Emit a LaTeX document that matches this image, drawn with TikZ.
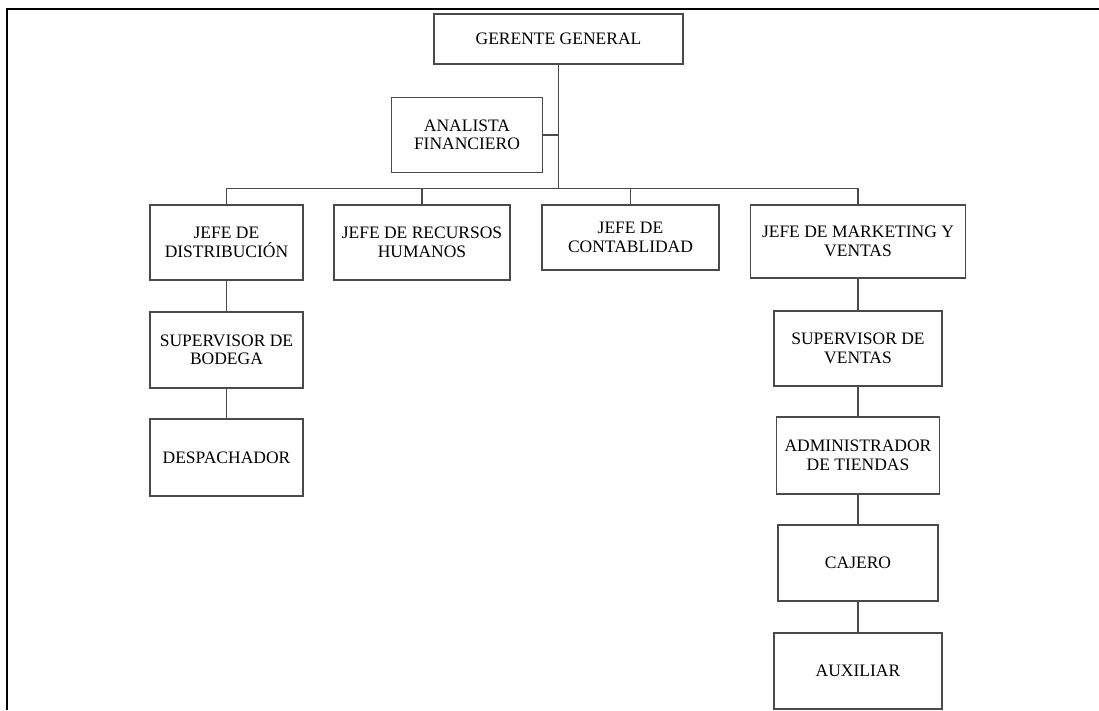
\documentclass[tikz,border=0pt]{standalone}
\usepackage{fontspec}
\setmainfont{Liberation Serif}
\usepackage{xcolor}
\usepackage{tikz}
\usetikzlibrary{positioning}

\definecolor{lineagris}{HTML}{4A4A4A}

\begin{document}
\begin{tikzpicture}[x=1pt,
				y=-1pt,
				puesto/.style={draw=lineagris, line width=1.3pt, inner sep=0pt, align=center, font=\fontsize{17.5}{18.5}\selectfont},
				enlace/.style={draw=lineagris, line width=1.5pt}]
				\useasboundingbox (0,0) rectangle (1099,710);
				\draw[line width=2.6pt, black] (1099,9) -| (7,710);
				\node at (558.5,39) (gg) [puesto, minimum width=249, minimum height=50] {GERENTE GENERAL};
				\node at (467,134.8) (af) [puesto, minimum width=151, minimum height=75] {ANALISTA\\FINANCIERO};
				\node at (226.5,242.5) (jd) [puesto, minimum width=153, minimum height=75] {JEFE DE\\DISTRIBUCIÓN};
				\node at (422,242.5) (jr) [puesto, minimum width=176, minimum height=75] {JEFE DE RECURSOS\\HUMANOS};
				\node at (630.5,237.5) (jc) [puesto, minimum width=177, minimum height=65] {JEFE DE\\CONTABLIDAD};
				\node at (858,241.5) (jm) [puesto, minimum width=215, minimum height=73] {JEFE DE MARKETING Y\\VENTAS};
				\node at (226.5,350) (sb) [puesto, minimum width=153, minimum height=76] {SUPERVISOR DE\\BODEGA};
				\node at (226.5,457.5) (de) [puesto, minimum width=153, minimum height=77] {DESPACHADOR};
				\node at (858,348.5) (sv) [puesto, minimum width=168, minimum height=75] {SUPERVISOR DE\\VENTAS};
				\node at (858,455.5) (ad) [puesto, minimum width=163, minimum height=77] {ADMINISTRADOR\\DE TIENDAS};
				\node at (858,563) (ca) [puesto, minimum width=160, minimum height=76] {CAJERO};
				\node at (858,671) (au) [puesto, minimum width=168, minimum height=76] {AUXILIAR};
				\coordinate (bus) at (558.5,188.3);
				\draw[enlace] (gg.south) -- (bus);
				\draw[enlace] (af.east) -- (af.east -| bus);
				\draw[enlace] (jd.north) |- (bus) -| (jm.north);
				\draw[enlace] (jr.north) -- (jr.north |- bus);
				\draw[enlace] (jc.north) -- (jc.north |- bus);
				\draw[enlace] (jd) -- (sb);
				\draw[enlace] (sb) -- (de);
				\draw[enlace] (jm) -- (sv);
				\draw[enlace] (sv) -- (ad);
				\draw[enlace] (ad) -- (ca);
				\draw[enlace] (ca) -- (au);
			\end{tikzpicture}
\end{document}
